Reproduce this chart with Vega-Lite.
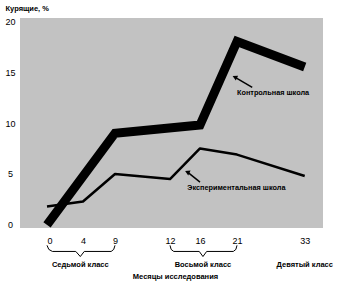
{
  "$schema": "https://vega.github.io/schema/vega-lite/v6.json",
  "autosize": {"type": "none"},
  "width": 303,
  "height": 210,
  "padding": {"left": 20, "top": 18, "right": 33, "bottom": 54},
  "background": "white",
  "view": {"fill": "#c2c2c2", "stroke": null},
  "config": {"font": "Liberation Sans"},
  "datasets": {
    "lines": [
      {"series": "Контрольная школа", "month": 0, "pct": 0},
      {"series": "Контрольная школа", "month": 9, "pct": 9},
      {"series": "Контрольная школа", "month": 16, "pct": 9.8},
      {"series": "Контрольная школа", "month": 21, "pct": 18},
      {"series": "Контрольная школа", "month": 33, "pct": 15.5},
      {"series": "Экспериментальная школа", "month": 0, "pct": 1.8},
      {"series": "Экспериментальная школа", "month": 4, "pct": 2.3},
      {"series": "Экспериментальная школа", "month": 9, "pct": 5},
      {"series": "Экспериментальная школа", "month": 12, "pct": 4.5},
      {"series": "Экспериментальная школа", "month": 16, "pct": 7.5},
      {"series": "Экспериментальная школа", "month": 21, "pct": 6.9},
      {"series": "Экспериментальная школа", "month": 33, "pct": 4.8}
    ],
    "braces": [
      {"b": "1", "i": 0, "month": 0, "y": -2.0},
      {"b": "1", "i": 1, "month": 0.2, "y": -2.4},
      {"b": "1", "i": 2, "month": 0.6, "y": -2.6},
      {"b": "1", "i": 3, "month": 3.2, "y": -2.6},
      {"b": "1", "i": 4, "month": 3.7, "y": -3.1},
      {"b": "1", "i": 5, "month": 4.2, "y": -2.6},
      {"b": "1", "i": 6, "month": 8.4, "y": -2.6},
      {"b": "1", "i": 7, "month": 8.8, "y": -2.4},
      {"b": "1", "i": 8, "month": 9, "y": -2.0},
      {"b": "2", "i": 0, "month": 12, "y": -2.0},
      {"b": "2", "i": 1, "month": 12.15, "y": -2.4},
      {"b": "2", "i": 2, "month": 12.5, "y": -2.6},
      {"b": "2", "i": 3, "month": 15.9, "y": -2.6},
      {"b": "2", "i": 4, "month": 16.4, "y": -3.1},
      {"b": "2", "i": 5, "month": 16.9, "y": -2.6},
      {"b": "2", "i": 6, "month": 20.5, "y": -2.6},
      {"b": "2", "i": 7, "month": 20.85, "y": -2.4},
      {"b": "2", "i": 8, "month": 21, "y": -2.0}
    ],
    "labels": [
      {"month": 3.7, "y": -3.9, "text": "Седьмой класс"},
      {"month": 16.4, "y": -3.9, "text": "Восьмой класс"},
      {"month": 33, "y": -3.9, "text": "Девятый класс"}
    ],
    "notes": [
      {"month": 21, "y": 12.9, "text": "Контрольная школа"},
      {"month": 14.3, "y": 3.6, "text": "Экспериментальная школа"}
    ],
    "arrows": [
      {"month": 20.7, "y": 14.5, "month2": 23.7, "y2": 13.5},
      {"month": 14.3, "y": 5.2, "month2": 16, "y2": 4.2}
    ]
  },
  "layer": [
    {
      "data": {"name": "lines"},
      "transform": [{"filter": "datum.series === 'Контрольная школа'"}],
      "mark": {"type": "line", "color": "black", "strokeWidth": 9, "strokeJoin": "miter", "strokeCap": "butt"},
      "encoding": {
        "x": {
          "field": "month", "type": "quantitative",
          "scale": {"domain": [0, 4, 9, 12, 16, 21, 33], "range": [27, 63, 95, 150, 180, 217, 296]},
          "axis": {
            "values": [0, 4, 9, 12, 16, 21, 33],
            "title": "Месяцы исследования",
            "titleFontSize": 7.5, "titleFontWeight": "bold", "titleColor": "black",
            "titleX": 155, "titleY": 48, "titleAnchor": null, "titleAlign": "center", "titleBaseline": "middle",
            "labelFontSize": 9, "labelColor": "black", "labelPadding": 8,
            "ticks": false, "domain": false, "grid": false
          }
        },
        "y": {
          "field": "pct", "type": "quantitative",
          "scale": {"domain": [-0.3, 20.3], "nice": false, "zero": false},
          "axis": {
            "values": [0, 5, 10, 15, 20],
            "title": "Курящие, %",
            "titleAngle": 0, "titleX": -15, "titleY": -10, "titleAlign": "left", "titleBaseline": "middle",
            "titleFontSize": 7.5, "titleFontWeight": "bold", "titleColor": "black",
            "labelFontSize": 9, "labelColor": "black", "labelAlign": "center", "labelPadding": 10,
            "ticks": false, "domain": false, "grid": false
          }
        }
      }
    },
    {
      "data": {"name": "lines"},
      "transform": [{"filter": "datum.series === 'Экспериментальная школа'"}],
      "mark": {"type": "line", "color": "black", "strokeWidth": 2.5, "strokeJoin": "round"},
      "encoding": {
        "x": {"field": "month", "type": "quantitative"},
        "y": {"field": "pct", "type": "quantitative"}
      }
    },
    {
      "data": {"name": "braces"},
      "mark": {"type": "line", "color": "black", "strokeWidth": 1, "clip": false},
      "encoding": {
        "x": {"field": "month", "type": "quantitative"},
        "y": {"field": "y", "type": "quantitative"},
        "detail": {"field": "b"},
        "order": {"field": "i"}
      }
    },
    {
      "data": {"name": "labels"},
      "mark": {"type": "text", "fontSize": 7.5, "fontWeight": "bold", "color": "black", "align": "center", "baseline": "middle"},
      "encoding": {
        "x": {"field": "month", "type": "quantitative"},
        "y": {"field": "y", "type": "quantitative"},
        "text": {"field": "text"}
      }
    },
    {
      "data": {"name": "notes"},
      "mark": {"type": "text", "fontSize": 7.3, "fontWeight": "bold", "color": "black", "align": "left", "baseline": "middle"},
      "encoding": {
        "x": {"field": "month", "type": "quantitative"},
        "y": {"field": "y", "type": "quantitative"},
        "text": {"field": "text"}
      }
    },
    {
      "data": {"name": "arrows"},
      "mark": {"type": "rule", "color": "black", "strokeWidth": 1.5},
      "encoding": {
        "x": {"field": "month", "type": "quantitative"},
        "y": {"field": "y", "type": "quantitative"},
        "x2": {"field": "month2"},
        "y2": {"field": "y2"}
      }
    },
    {
      "data": {"name": "arrows"},
      "mark": {"type": "point", "shape": "triangle-left", "filled": true, "color": "black", "size": 30, "opacity": 1, "angle": 25},
      "encoding": {
        "x": {"field": "month", "type": "quantitative"},
        "y": {"field": "y", "type": "quantitative"}
      }
    }
  ]
}
